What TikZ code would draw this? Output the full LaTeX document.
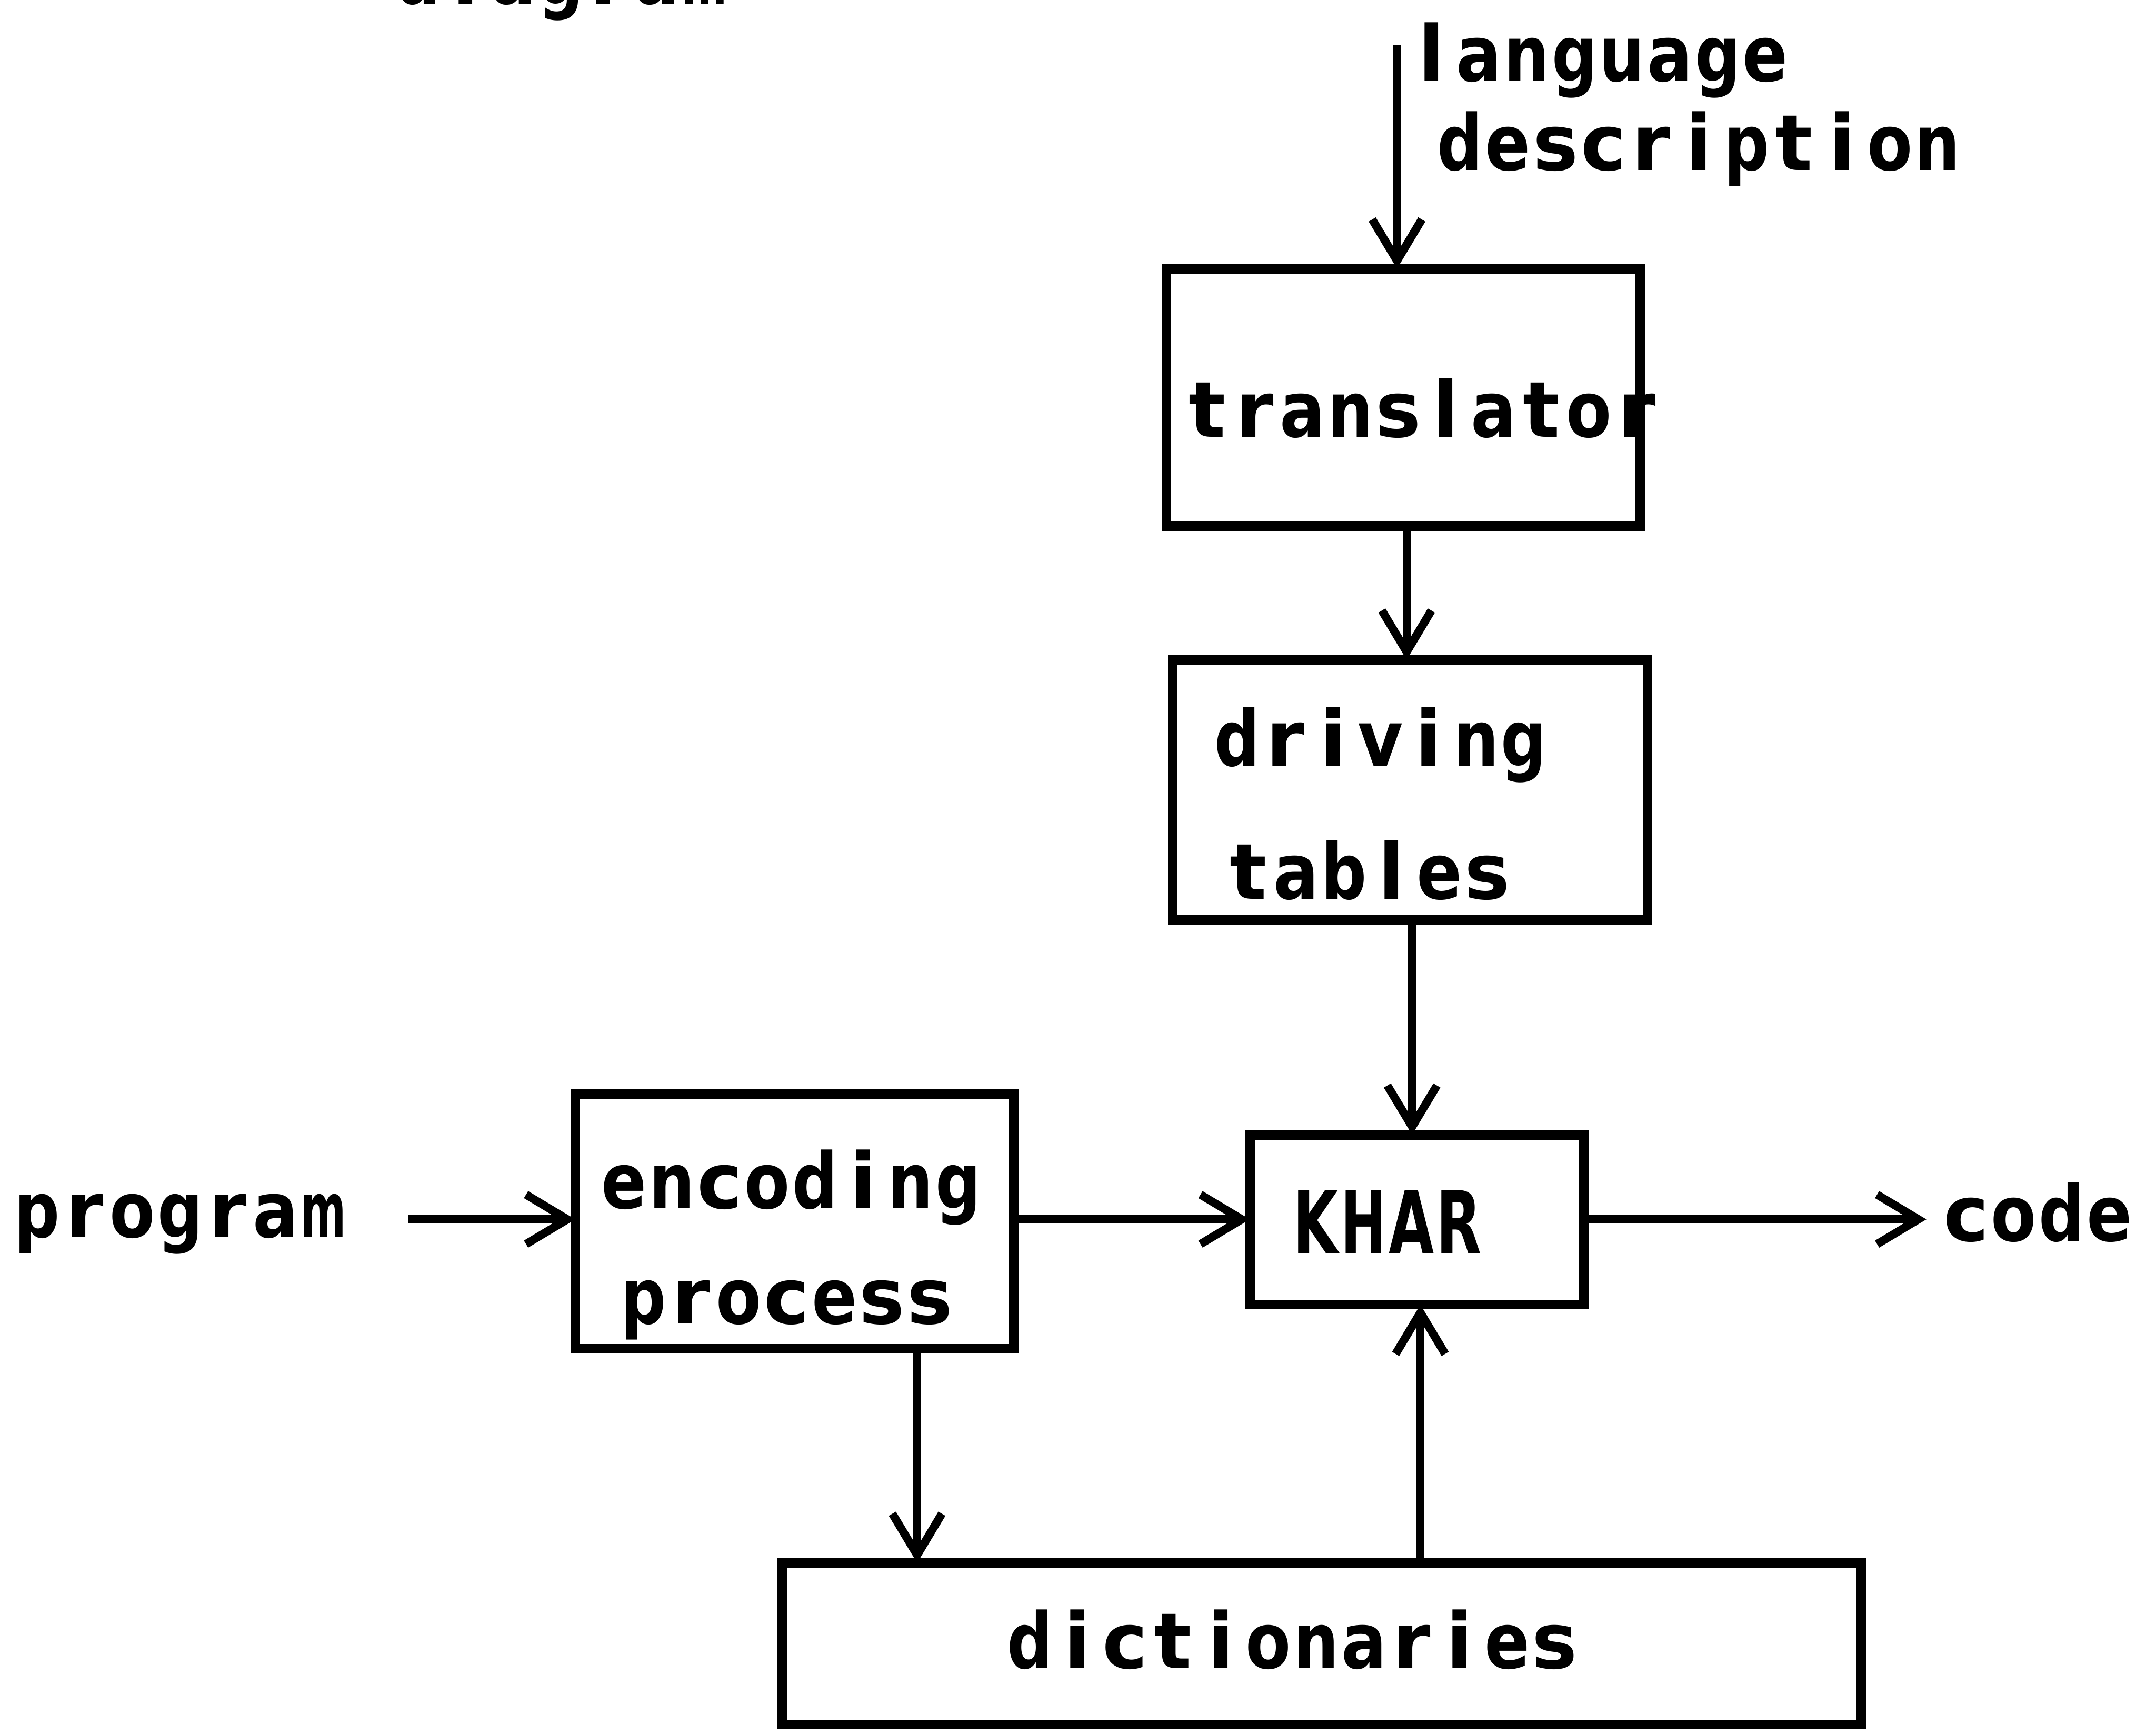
\documentclass[tikz,border=0pt]{standalone}
\usepackage{fontspec}
\usepackage{graphicx}
\setmainfont{DejaVu Sans}
\usetikzlibrary{arrows.meta}

% Plotter-style lettering: every character sits in a cell of fixed width,
% and glyphs wider than the cell are squeezed horizontally.
\newlength\plotadv \setlength\plotadv{0.347cm}
\newlength\plotmax \setlength\plotmax{0.33cm}
\newsavebox\plotglyph
\def\plotwordloop#1{\ifx#1\relax\else
  \sbox\plotglyph{#1}%
  \makebox[\plotadv][c]{\ifdim\wd\plotglyph>\plotmax\resizebox{\plotmax}{\height}{\usebox\plotglyph}\else\usebox\plotglyph\fi}%
  \expandafter\plotwordloop\fi}
\newcommand\plotword[1]{\plotwordloop#1\relax}

\begin{document}
\begin{tikzpicture}[x=0.01cm, y=-0.01cm,
  box/.style={draw, line width=2pt, inner sep=0pt, outer sep=0pt},
  txt/.style={inner sep=0pt, outer sep=0pt, anchor=base west,
              font=\bfseries\fontsize{16pt}{19pt}\selectfont},
  bigtxt/.style={txt, font=\bfseries\fontsize{18pt}{21pt}\selectfont},
  arr/.style={line width=1.7pt, -{Straight Barb[length=0.3cm,width=0.36cm]}}]
\useasboundingbox (0,0) rectangle (1568,1262);

% caption line running off the top edge
\node[txt] (caption) at (286.6,3) {\plotword{diagram}};

% boxes
\node[box, minimum width=3.44cm,  minimum height=1.875cm] (trans) at (1020.5,289.25) {};
\node[box, minimum width=3.45cm,  minimum height=1.89cm]  (drive) at (1025.5,574.5) {};
\node[box, minimum width=2.43cm,  minimum height=1.235cm] (khar)  at (1030.5,887.25) {};
\node[box, minimum width=3.185cm, minimum height=1.85cm]  (enc)   at (577.75,888.5) {};
\node[box, minimum width=7.845cm, minimum height=1.175cm] (dict)  at (961.25,1195.75) {};

% texts
\node[txt] (lang1)  at (1023.6,59)   {\plotword{language}};
\node[txt] (lang2)  at (1044.6,124)  {\plotword{description}};
\node[txt] (transt) at (860.6,318)   {\plotword{translator}};
\node[txt] (drv1)   at (882.6,557)   {\plotword{driving}};
\node[txt] (drv2)   at (890.6,654)   {\plotword{tables}};
\node[bigtxt] (khart) at (939.6,912) {\plotword{KHAR}};
\node[txt] (enc1)   at (436.6,879)   {\plotword{encoding}};
\node[txt] (enc2)   at (450.6,963)   {\plotword{process}};
\node[txt] (dictt)  at (731.6,1213.5) {\plotword{dictionaries}};
\node[txt] (prog)   at (9.6,900)     {\plotword{program}};
\node[txt] (code)   at (1412.6,903)  {\plotword{code}};

% connectors
\coordinate (langtop) at (1016,33);
\coordinate (c1) at (1023,0);
\coordinate (c2) at (1027,0);
\coordinate (c3) at (667,0);
\coordinate (c4) at (1033,0);
\coordinate (progend) at (297,887);
\coordinate (codeend) at (1401,887);

\draw[arr] (langtop) -- (langtop |- trans.north);
\draw[arr] (trans.south -| c1) -- (drive.north -| c1);
\draw[arr] (drive.south -| c2) -- (khar.north -| c2);
\draw[arr] (progend) -- (enc.west |- progend);
\draw[arr] (enc.east |- progend) -- (khar.west |- progend);
\draw[arr] (khar.east |- progend) -- (codeend);
\draw[arr] (enc.south -| c3) -- (dict.north -| c3);
\draw[arr] (dict.north -| c4) -- (khar.south -| c4);
\end{tikzpicture}
\end{document}
